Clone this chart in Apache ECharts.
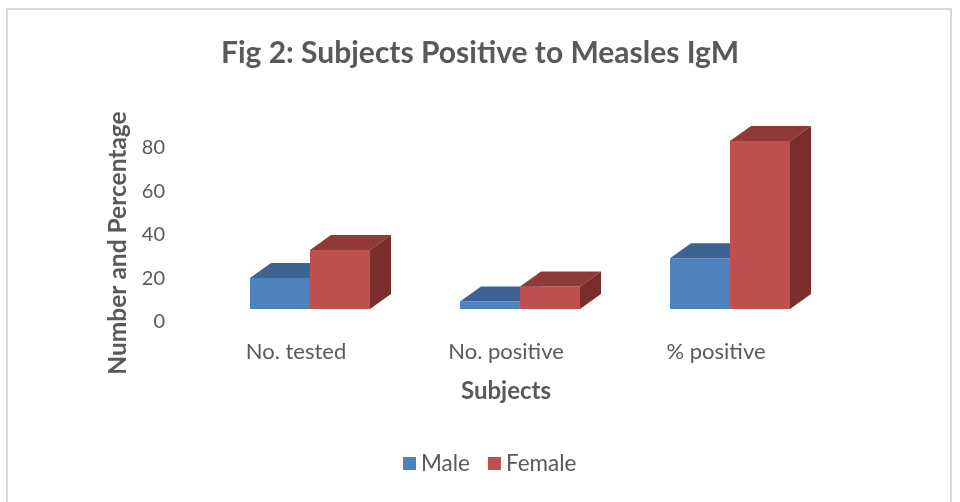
<!DOCTYPE html>
<html>
<head>
<meta charset="utf-8">
<script src="https://cdn.jsdelivr.net/npm/echarts@6/dist/echarts.min.js"></script>
<style>
  html, body { margin: 0; padding: 0; background: #fff; }
  #chart { width: 960px; height: 502px; }
</style>
</head>
<body>
<div id="chart"></div>
<script>
const categories = ["No. tested", "No. positive", "% positive"];
const maleValues = [14.3, 3.4, 23.3];
const femaleValues = [27.1, 10.3, 77.2];
const yTicks = [0, 20, 40, 60, 80];

const faceColors = {
    Male: {front: "#4f81bd", top: "#3c6391", side: "#2f4f75"},
    Female: {front: "#c0504d", top: "#8f3a38", side: "#7a2d2c"}
};

const chart = echarts.init(document.getElementById("chart"));

// fake 3d column: front face + top + right side
function makeRender(name, offsetIndex) {
    const c = faceColors[name];
    return function (params, api) {
        const idx = api.value(0);
        const v = api.value(1);
        const base = api.coord([idx, 0]);
        const top = api.coord([idx, v]);
        const band = api.size([1, 0])[0];
        const w = band * 60 / 210;
        const shift = band * 14 / 210;
        const x0 = base[0] + shift + (offsetIndex - 1) * w;
        const yb = base[1] - 13;
        const yt = top[1] - 13;
        const dx = 21, dy = 15;
        return {
            type: "group",
            children: [
                {
                    type: "rect",
                    shape: {x: x0, y: yt, width: w, height: yb - yt},
                    style: {fill: c.front}
                },
                {
                    type: "polygon",
                    shape: {points: [[x0, yt], [x0 + dx, yt - dy], [x0 + w + dx, yt - dy], [x0 + w, yt]]},
                    style: {fill: c.top}
                },
                {
                    type: "polygon",
                    shape: {points: [[x0 + w, yt], [x0 + w + dx, yt - dy], [x0 + w + dx, yb - dy], [x0 + w, yb]]},
                    style: {fill: c.side}
                }
            ]
        };
    };
}

const option = {
    backgroundColor: "#fff",
    animation: false,
    title: {
        text: "Fig 2: Subjects Positive to Measles IgM",
        left: "center",
        top: 33,
        textStyle: {
            fontFamily: "Lato",
            fontSize: 30,
            fontWeight: "bold",
            color: "#595959"
        }
    },
    graphic: [
        {
            type: "rect",
            shape: {x: 7, y: 9, width: 944, height: 510},
            style: {fill: "none", stroke: "#d9d9d9", lineWidth: 2},
            silent: true
        }
    ],
    legend: {
        bottom: 27,
        left: 403,
        padding: 0,
        icon: "rect",
        itemWidth: 13,
        itemHeight: 13,
        itemGap: 18,
        itemTextGap: 6,
        textStyle: {fontFamily: "Lato", fontSize: 22.5, color: "#595959"},
        data: ["Male", "Female"]
    },
    grid: {
        left: 191,
        right: 139,
        top: 148,
        bottom: 180
    },
    xAxis: {
        type: "category",
        data: categories,
        name: "Subjects",
        nameLocation: "middle",
        nameGap: 57,
        nameTextStyle: {fontFamily: "Lato", fontSize: 24, fontWeight: "bold", color: "#595959"},
        axisLine: {show: false},
        axisTick: {show: false},
        axisLabel: {margin: 19, fontFamily: "Lato", fontSize: 22, color: "#595959"}
    },
    yAxis: {
        type: "value",
        min: yTicks[0],
        max: yTicks[yTicks.length - 1],
        interval: 20,
        name: "Number and Percentage",
        nameLocation: "middle",
        nameGap: 60,
        nameTextStyle: {fontFamily: "Lato", fontSize: 24.5, fontWeight: "bold", color: "#595959", padding: [0, 0, 0, -16]},
        axisLine: {show: false},
        axisTick: {show: false},
        splitLine: {show: false},
        axisLabel: {margin: 26, fontFamily: "Lato", fontSize: 20, color: "#595959"}
    },
    series: [
        {
            name: "Male",
            type: "custom",
            itemStyle: {color: faceColors.Male.front},
            renderItem: makeRender("Male", 0),
            encode: {x: 0, y: 1},
            data: maleValues.map((v, i) => [i, v])
        },
        {
            name: "Female",
            type: "custom",
            itemStyle: {color: faceColors.Female.front},
            renderItem: makeRender("Female", 1),
            encode: {x: 0, y: 1},
            data: femaleValues.map((v, i) => [i, v])
        }
    ]
};

chart.setOption(option);
</script>
</body>
</html>
